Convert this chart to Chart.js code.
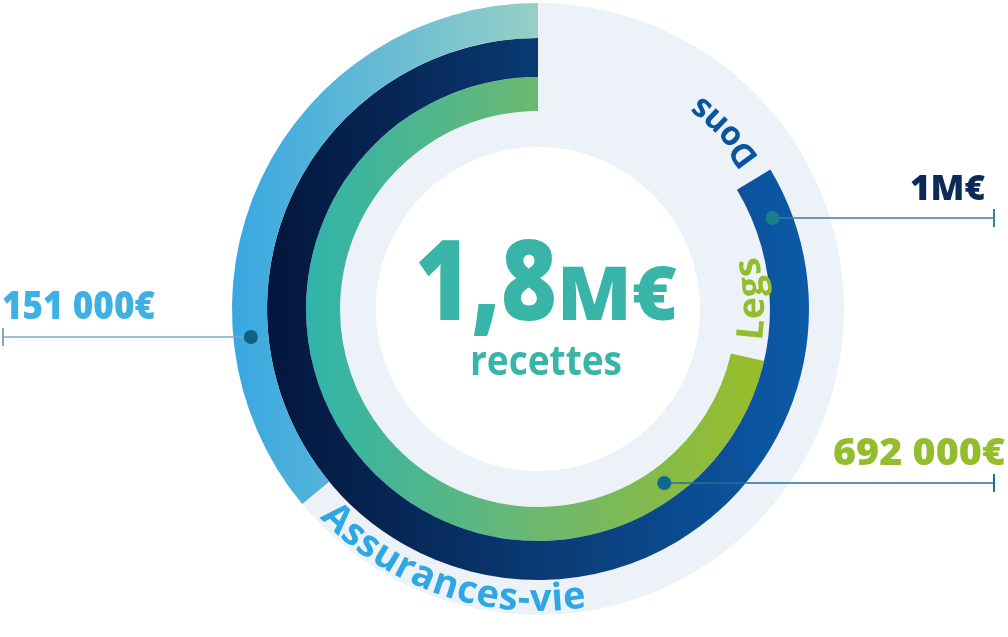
<!DOCTYPE html>
<html lang="fr">
<head>
<meta charset="utf-8">
<title>Recettes</title>
<script src="https://cdn.jsdelivr.net/npm/chart.js@4.4.1/dist/chart.umd.min.js"></script>
<style>
  html, body { margin: 0; padding: 0; background: #fff; }
  canvas { display: block; }
</style>
</head>
<body>
<canvas id="recettes" width="1008" height="637"></canvas>
<script>
// rings, from the outside in
var categories = ['Assurances-vie', 'Dons', 'Legs'];
var amounts = [151000, 1000000, 692000];
var amountLabels = ['151 000€', '1M€', '692 000€'];
// part of each ring that is filled, in % (the graphic is not drawn to scale)
var ringFill = [36, 83.6, 71.4];
var totalLabel = '1,8';
var totalUnit = 'M€';
var totalCaption = 'recettes';

var ringWeights = [35, 39, 34];
var gradStops = [
    [[0, '#38a7e1'], [0.5, '#97d0c6']],
    [[0.06, '#03163c'], [0.5, '#0a3a73'], [0.94, '#0c5aa8']],
    [[0.12, '#30b4ab'], [0.5, '#6cb870'], [0.87, '#9abd28']]
];

function ringColor(i) {
    return function (c) {
        if (c.dataIndex === 0) return 'rgba(0,0,0,0)';
        var area = c.chart.chartArea;
        if (!area) return gradStops[i][0][1];
        var cx = (area.left + area.right) / 2;
        var R = Math.min(area.width, area.height) / 2;
        var g = c.chart.ctx.createLinearGradient(cx - R, 0, cx + R, 0);
        gradStops[i].forEach(function (s) { g.addColorStop(s[0], s[1]); });
        return g;
    };
}

function fitText(ctx, text, x, y, w, align) {
    var k = w / ctx.measureText(text).width;
    ctx.save();
    ctx.translate(x, y);
    ctx.scale(k, 1);
    ctx.textAlign = align;
    ctx.fillText(text, 0, 0);
    ctx.restore();
}

// text read along the ring, counter-clockwise, letter tops toward the centre
function arcText(ctx, text, cx, cy, r, midDeg, size) {
    var rs = r - size * 0.3;
    var chars = text.split('');
    var widths = chars.map(function (ch) { return ctx.measureText(ch).width; });
    var total = widths.reduce(function (a, b) { return a + b; }, 0);
    var a = midDeg * Math.PI / 180 + total / (2 * rs);
    chars.forEach(function (ch, k) {
        var half = widths[k] / (2 * rs);
        a -= half;
        ctx.save();
        ctx.translate(cx + r * Math.sin(a), cy - r * Math.cos(a));
        ctx.rotate(a - Math.PI);
        ctx.textAlign = 'center';
        ctx.textBaseline = 'alphabetic';
        ctx.fillText(ch, 0, 0);
        ctx.restore();
        a -= half;
    });
}

var ringTrack = {
    id: 'ringTrack',
    beforeDatasetsDraw: function (chart, args, opts) {
        var arc = chart.getDatasetMeta(0).data[1];
        var ctx = chart.ctx;
        ctx.save();
        ctx.beginPath();
        ctx.arc(arc.x, arc.y, arc.outerRadius, 0, Math.PI * 2);
        ctx.arc(arc.x, arc.y, arc.outerRadius * opts.inner, 0, Math.PI * 2, true);
        ctx.fillStyle = opts.color;
        ctx.fill();
        ctx.restore();
    }
};

var ringNotes = {
    id: 'ringNotes',
    afterDatasetsDraw: function (chart, args, opts) {
        var ctx = chart.ctx;
        var first = chart.getDatasetMeta(0).data[1];
        var cx = first.x, cy = first.y;

        categories.forEach(function (name, i) {
            var arc = chart.getDatasetMeta(i).data[1];
            var t = opts.names[i];
            var l = opts.leaders[i];

            // name along the ring
            ctx.save();
            ctx.font = '700 ' + t.size + 'px "Open Sans"';
            ctx.fillStyle = t.color;
            arcText(ctx, name, cx, cy, arc.outerRadius - t.inset, t.angle, t.size);
            ctx.restore();

            // leader line with dot on the ring
            var rMid = (arc.innerRadius + arc.outerRadius) / 2;
            var lineY = cy + l.dy;
            var dx = Math.sqrt(rMid * rMid - l.dy * l.dy);
            var dotX = l.side === 'left' ? cx - dx : cx + dx;
            ctx.save();
            ctx.strokeStyle = l.line;
            ctx.lineWidth = 1.6;
            ctx.beginPath();
            ctx.moveTo(dotX, lineY);
            ctx.lineTo(l.end, lineY);
            ctx.stroke();
            ctx.lineWidth = 2;
            ctx.beginPath();
            ctx.moveTo(l.end, lineY - 9);
            ctx.lineTo(l.end, lineY + 9);
            ctx.stroke();
            ctx.fillStyle = l.dot;
            ctx.beginPath();
            ctx.arc(dotX, lineY, 7, 0, Math.PI * 2);
            ctx.fill();

            ctx.font = '800 ' + l.size + 'px "Open Sans"';
            ctx.fillStyle = l.color;
            ctx.textBaseline = 'alphabetic';
            fitText(ctx, amountLabels[i], l.labelX, lineY - 18, l.width, l.align);
            ctx.restore();
        });

        // total in the middle
        ctx.save();
        ctx.fillStyle = opts.centerColor;
        ctx.textBaseline = 'alphabetic';
        ctx.font = '800 112px "Open Sans"';
        fitText(ctx, totalLabel, cx - 123, cy + 11, 142, 'left');
        ctx.font = '800 74px "Open Sans"';
        fitText(ctx, totalUnit, cx + 19, cy + 11, 120, 'left');
        ctx.font = '700 42px "Open Sans"';
        fitText(ctx, totalCaption, cx + 8, cy + 66, 152, 'center');
        ctx.restore();
    }
};

new Chart(document.getElementById('recettes'), {
    type: 'doughnut',
    data: {
        labels: ['', 'part'],
        datasets: categories.map(function (name, i) {
            return {
                label: name,
                data: [100 - ringFill[i], ringFill[i]],
                backgroundColor: ringColor(i),
                borderWidth: 0,
                weight: ringWeights[i]
            };
        })
    },
    options: {
        responsive: false,
        animation: false,
        events: [],
        cutout: '64.7%',
        layout: { padding: { left: 232, right: 164, top: 3, bottom: 22 } },
        plugins: {
            legend: { display: false },
            tooltip: { enabled: false },
            ringTrack: { inner: 0.53, color: '#edf2f9' },
            ringNotes: {
                centerColor: '#38b5a8',
                names: [
                    { angle: 198.5, size: 38, inset: 4, color: '#2ea7e2' },
                    { angle: 46.5, size: 33, inset: 3, color: '#0b55a0' },
                    { angle: 87.3, size: 37, inset: 6, color: '#93bd2c' }
                ],
                leaders: [
                    { dy: 28, side: 'left', end: 3, labelX: 2, width: 153, align: 'left', size: 38,
                      color: '#3fb0e3', line: '#7ba8c3', dot: '#0d6285' },
                    { dy: -91, side: 'right', end: 994, labelX: 985, width: 75, align: 'right', size: 36,
                      color: '#0b2a55', line: '#3a7ea6', dot: '#17808b' },
                    { dy: 174, side: 'right', end: 994, labelX: 1005, width: 172, align: 'right', size: 37,
                      color: '#93bd2c', line: '#22709a', dot: '#0f6a8c' }
                ]
            }
        }
    },
    plugins: [ringTrack, ringNotes]
});
</script>
</body>
</html>
